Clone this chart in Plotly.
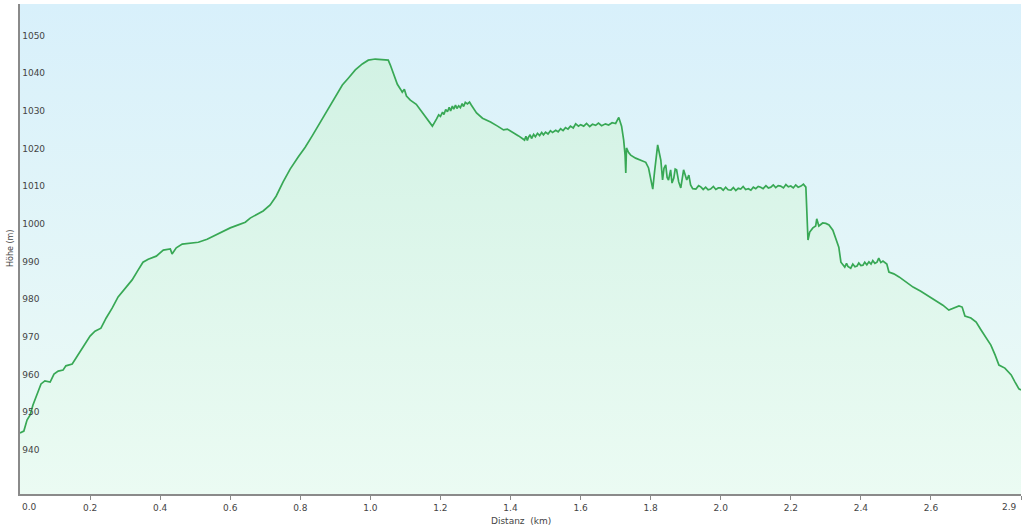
import plotly.graph_objects as go

# Elevation profile (distance in km, elevation in m)
dist_km = [
    0.000, 0.011, 0.020, 0.029, 0.037, 0.049, 0.060, 0.071, 0.086, 0.097,
    0.109, 0.123, 0.131, 0.149, 0.166, 0.186, 0.200, 0.214, 0.231, 0.246,
    0.263, 0.280, 0.300, 0.320, 0.337, 0.351, 0.366, 0.389, 0.409, 0.429,
    0.434, 0.446, 0.463, 0.486, 0.509, 0.534, 0.557, 0.577, 0.600, 0.623,
    0.643, 0.657, 0.671, 0.694, 0.714, 0.731, 0.751, 0.771, 0.794, 0.814,
    0.834, 0.857, 0.880, 0.900, 0.920, 0.937, 0.957, 0.977, 0.994, 1.014,
    1.051, 1.057, 1.069, 1.077, 1.086, 1.091, 1.097, 1.103, 1.114, 1.131,
    1.143, 1.157, 1.171, 1.177, 1.189, 1.195, 1.200, 1.206, 1.210, 1.215,
    1.220, 1.225, 1.229, 1.234, 1.238, 1.243, 1.247, 1.252, 1.257, 1.262,
    1.266, 1.271, 1.277, 1.283, 1.288, 1.303, 1.320, 1.343, 1.363, 1.380,
    1.391, 1.406, 1.423, 1.440, 1.444, 1.448, 1.451, 1.456, 1.460, 1.466,
    1.471, 1.477, 1.483, 1.489, 1.494, 1.500, 1.507, 1.514, 1.520, 1.529,
    1.536, 1.543, 1.550, 1.557, 1.564, 1.571, 1.579, 1.586, 1.594, 1.600,
    1.609, 1.617, 1.626, 1.634, 1.643, 1.651, 1.660, 1.671, 1.680, 1.690,
    1.700, 1.709, 1.717, 1.723, 1.727, 1.729, 1.731, 1.737, 1.743, 1.757,
    1.771, 1.786, 1.794, 1.800, 1.806, 1.811, 1.820, 1.829, 1.834, 1.838,
    1.843, 1.847, 1.851, 1.857, 1.861, 1.866, 1.870, 1.874, 1.880, 1.886,
    1.894, 1.903, 1.909, 1.914, 1.920, 1.929, 1.937, 1.943, 1.950, 1.957,
    1.964, 1.971, 1.979, 1.986, 1.993, 2.000, 2.007, 2.014, 2.021, 2.029,
    2.036, 2.043, 2.050, 2.057, 2.064, 2.071, 2.079, 2.086, 2.093, 2.100,
    2.107, 2.114, 2.121, 2.129, 2.136, 2.143, 2.150, 2.157, 2.164, 2.171,
    2.179, 2.186, 2.193, 2.200, 2.207, 2.214, 2.221, 2.229, 2.236, 2.243,
    2.246, 2.249, 2.254, 2.263, 2.271, 2.274, 2.280, 2.291, 2.300, 2.309,
    2.320, 2.329, 2.337, 2.343, 2.349, 2.354, 2.359, 2.363, 2.371, 2.377,
    2.383, 2.389, 2.394, 2.400, 2.406, 2.411, 2.417, 2.423, 2.429, 2.434,
    2.440, 2.446, 2.451, 2.457, 2.463, 2.474, 2.480, 2.494, 2.509, 2.529,
    2.549, 2.571, 2.594, 2.614, 2.634, 2.651, 2.666, 2.680, 2.689, 2.697,
    2.714, 2.729, 2.743, 2.757, 2.771, 2.783, 2.794, 2.811, 2.829, 2.840,
    2.851, 2.857,
]
elev_m = [
    946.2, 946.7, 949.6, 951.0, 953.6, 956.8, 959.2, 960.0, 959.7, 961.8,
    962.6, 962.9, 964.0, 964.5, 966.9, 970.0, 971.9, 973.2, 974.0, 976.7,
    979.3, 982.3, 984.6, 986.8, 989.4, 991.5, 992.3, 993.1, 994.7, 995.0,
    993.7, 995.3, 996.3, 996.6, 996.8, 997.6, 998.7, 999.5, 1000.6, 1001.4,
    1002.1, 1003.2, 1004.0, 1005.1, 1006.7, 1009.0, 1012.8, 1016.2, 1019.4, 1022.0,
    1025.0, 1028.7, 1032.1, 1035.3, 1038.5, 1040.3, 1042.5, 1044.1, 1045.1, 1045.4,
    1045.1, 1043.8, 1040.9, 1038.7, 1037.4, 1036.6, 1037.4, 1035.6, 1034.5, 1033.4,
    1031.9, 1030.0, 1028.1, 1027.6, 1029.5, 1030.6, 1030.2, 1031.3, 1030.7, 1032.0,
    1031.4, 1032.6, 1031.6, 1032.9, 1032.1, 1033.2, 1032.3, 1033.0, 1032.5, 1033.6,
    1032.8, 1033.9, 1033.5, 1034.0, 1033.2, 1031.1, 1029.7, 1028.7, 1027.6, 1026.6,
    1026.8, 1026.0, 1025.0, 1023.9, 1024.9, 1023.8, 1024.6, 1025.3, 1024.3, 1025.4,
    1024.8, 1025.7, 1025.1, 1025.9, 1025.3, 1026.0, 1025.5, 1026.4, 1025.9, 1026.5,
    1026.1, 1026.9, 1026.4, 1027.2, 1026.8, 1027.6, 1027.1, 1028.2, 1027.6, 1028.0,
    1027.6, 1028.3, 1027.5, 1028.1, 1027.8, 1028.4, 1027.7, 1028.2, 1027.9, 1028.5,
    1028.3, 1029.9, 1027.6, 1023.9, 1019.9, 1015.2, 1021.8, 1020.6, 1019.9, 1019.1,
    1018.6, 1018.0, 1016.5, 1013.8, 1010.9, 1015.4, 1022.6, 1018.6, 1013.3, 1016.4,
    1017.3, 1014.0, 1013.3, 1016.0, 1012.5, 1013.8, 1016.2, 1016.0, 1012.8, 1011.2,
    1016.0, 1013.3, 1014.6, 1012.0, 1011.0, 1010.9, 1011.8, 1011.5, 1010.8, 1011.4,
    1010.7, 1010.9, 1011.6, 1010.8, 1011.2, 1011.2, 1010.6, 1011.4, 1010.7, 1010.6,
    1011.3, 1010.5, 1011.1, 1010.9, 1011.6, 1010.8, 1011.0, 1010.6, 1011.4, 1011.0,
    1011.6, 1011.4, 1011.0, 1011.8, 1011.2, 1011.4, 1012.0, 1011.3, 1011.8, 1011.7,
    1011.2, 1012.1, 1011.5, 1011.7, 1011.2, 1012.0, 1011.4, 1011.7, 1012.2, 1011.4,
    1001.4, 997.4, 999.5, 1000.6, 1001.1, 1003.0, 1001.1, 1001.9, 1001.8, 1001.4,
    1000.0, 997.4, 995.5, 991.5, 990.8, 990.2, 991.2, 990.4, 989.9, 991.0,
    990.3, 990.5, 991.3, 990.6, 990.7, 991.5, 990.8, 991.6, 991.0, 991.9,
    991.2, 991.5, 992.6, 991.4, 991.8, 991.0, 988.9, 988.4, 987.6, 986.2,
    984.9, 983.8, 982.5, 981.2, 980.1, 978.8, 979.3, 979.9, 979.6, 977.2,
    976.7, 975.6, 973.5, 971.6, 969.5, 966.9, 964.2, 963.4, 961.6, 959.7,
    957.9, 957.6,
]

# Axis ticks (the two end labels are placed as annotations below)
x_tickvals = [0.0, 0.2, 0.4, 0.6, 0.8, 1.0, 1.2, 1.4, 1.6, 1.8, 2.0, 2.2, 2.4, 2.6, 2.857]
x_ticktext = ['', '0.2', '0.4', '0.6', '0.8', '1.0', '1.2', '1.4', '1.6', '1.8',
              '2.0', '2.2', '2.4', '2.6', '']
x_end_labels = ['0.0', '2.9']
y_tickvals = [940, 950, 960, 970, 980, 990, 1000, 1010, 1020, 1030, 1040, 1050]

x_max = dist_km[-1]
x_range = [0, x_max]
y_range = [930, 1060]

fig = go.Figure()

# plot background gradient (light blue at top, mint at the bottom)
fig.add_trace(go.Scatter(
    x=x_range, y=[y_range[1], y_range[1]],
    mode='lines', line=dict(width=0),
    fill='tozeroy',
    fillgradient=dict(type='vertical', start=y_range[0], stop=y_range[1],
                      colorscale=[[0, '#edfbf5'], [1, '#d8f0fb']]),
    hoverinfo='skip', showlegend=False,
))

# elevation profile
fig.add_trace(go.Scatter(
    x=dist_km, y=elev_m,
    mode='lines',
    line=dict(color='#38a855', width=1.7),
    fill='tozeroy',
    fillgradient=dict(type='vertical', start=y_range[0], stop=1045,
                      colorscale=[[0, '#ebfbf3'], [1, '#d2f2e4']]),
    showlegend=False,
    hovertemplate='%{x:.2f} km<br>%{y:.0f} m<extra></extra>',
))

tick_font = dict(family='DejaVu Sans, Verdana, sans-serif', size=9, color='#444444')

fig.update_layout(
    width=1024, height=527,
    margin=dict(l=20, r=3, t=4, b=33),
    paper_bgcolor='white',
    plot_bgcolor='#e6f6f8',
    font=dict(family='DejaVu Sans, Verdana, sans-serif', size=9, color='#333333'),
    xaxis=dict(
        range=x_range,
        tickvals=x_tickvals, ticktext=x_ticktext,
        automargin=False,
        showgrid=False, zeroline=False,
        showline=True, linecolor='#8a8a8a', linewidth=1.5,
        ticks='outside', ticklen=4, tickcolor='#8a8a8a',
        tickfont=tick_font,
    ),
    yaxis=dict(
        range=y_range,
        tickvals=y_tickvals,
        ticklabelposition='inside top',
        automargin=False,
        showgrid=True, gridcolor='#c6d9df', gridwidth=1,
        zeroline=False,
        showline=True, linecolor='#8a8a8a', linewidth=2,
        ticks='', tickfont=tick_font,
        layer='above traces',
    ),
    annotations=[
        dict(text='Höhe (m)', textangle=-90, xref='paper', yref='paper',
             x=0, y=0.5, xanchor='center', yanchor='middle', xshift=-10,
             showarrow=False, font=dict(size=8, color='#444444')),
        dict(text='Distanz  (km)', xref='paper', yref='paper',
             x=0.5, y=0, xanchor='center', yanchor='top', yshift=-20,
             showarrow=False, font=tick_font),
        dict(text=x_end_labels[0], xref='x', yref='paper', x=x_range[0], y=0,
             xanchor='left', yanchor='middle', yshift=-13,
             showarrow=False, font=tick_font),
        dict(text=x_end_labels[1], xref='x', yref='paper', x=x_range[1], y=0,
             xanchor='right', yanchor='middle', yshift=-13, xshift=-2,
             showarrow=False, font=tick_font),
    ],
)

# drop the default page margin so the figure sits at the window's corner
fig.write_html("out.html", config={'displayModeBar': False},
               post_script="document.body.style.margin='0';")
